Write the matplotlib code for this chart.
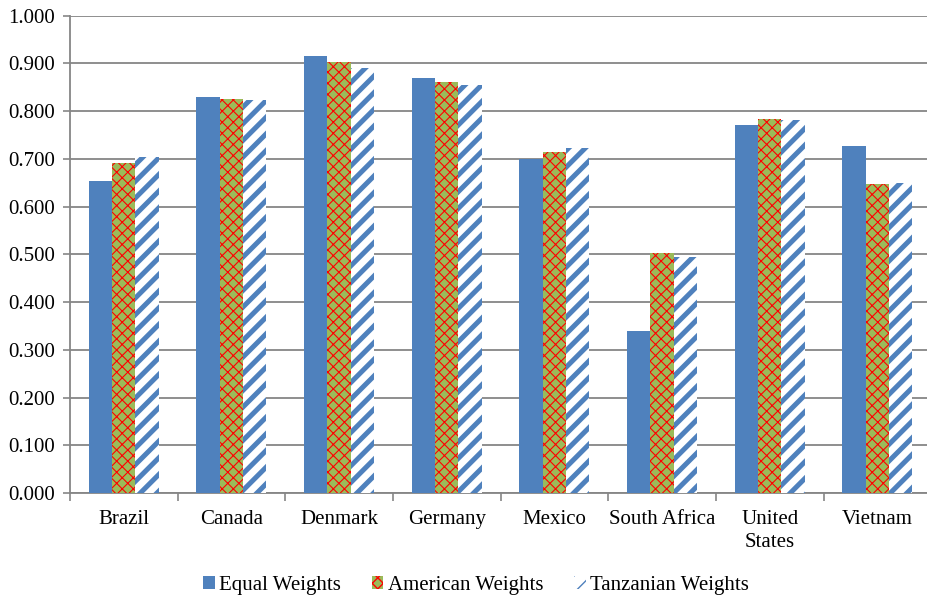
import numpy as np
import matplotlib
matplotlib.use("Agg")
import matplotlib.pyplot as plt

countries = ["Brazil", "Canada", "Denmark", "Germany", "Mexico",
             "South Africa", "United\nStates", "Vietnam"]
equal_w = [0.654, 0.830, 0.915, 0.870, 0.700, 0.340, 0.770, 0.727]
american_w = [0.692, 0.825, 0.902, 0.862, 0.715, 0.503, 0.784, 0.648]
tanzanian_w = [0.703, 0.823, 0.890, 0.855, 0.722, 0.495, 0.782, 0.650]
series_names = ["Equal Weights", "American Weights", "Tanzanian Weights"]

plt.rcParams['font.family'] = ['Liberation Serif', 'DejaVu Serif']
plt.rcParams['font.size'] = 15

blue = "#4F81BD"
green = "#9BBB59"
red = "#FF0000"
grid_c = "#868686"

fig = plt.figure(figsize=(9.28, 5.96), dpi=100)
ax = fig.add_axes([0.0754, 0.1728, 0.928, 0.8009])

x = np.arange(len(countries))
w = 0.217

b1 = ax.bar(x - w, equal_w, w, color=blue, linewidth=0, label=series_names[0], zorder=3)
b2 = ax.bar(x, american_w, w, facecolor=green, edgecolor=red, linewidth=0,
            hatch="xxx", label=series_names[1], zorder=3)
b3 = ax.bar(x + w, tanzanian_w, w, facecolor="white", edgecolor=blue, linewidth=0,
            hatch="//", label=series_names[2], zorder=3)

for p in b2:
    if hasattr(p, "set_hatch_linewidth"):
        p.set_hatch_linewidth(0.8)
for p in b3:
    if hasattr(p, "set_hatch_linewidth"):
        p.set_hatch_linewidth(3.6)

ax.set_ylim(0, 1.0)
ax.set_xlim(-0.5, len(countries) - 0.5)
ax.set_yticks(np.arange(0, 1.01, 0.1))
ax.set_yticklabels([f"{v:.3f}" for v in np.arange(0, 1.01, 0.1)])
ax.yaxis.grid(True, color=grid_c, linewidth=1.3, zorder=0)
ax.set_axisbelow(True)

ax.set_xticks(x)
ax.set_xticklabels(countries, linespacing=1.3)
ax.set_xticks(np.arange(-0.5, len(countries)), minor=True)
ax.tick_params(axis="x", which="major", length=0, pad=12)
ax.tick_params(axis="x", which="minor", length=6, color=grid_c, width=1.2)
ax.tick_params(axis="y", length=5, color=grid_c, width=1.2, pad=6)

for s in ["top", "right"]:
    ax.spines[s].set_visible(False)
for s in ["left", "bottom"]:
    ax.spines[s].set_color(grid_c)
    ax.spines[s].set_linewidth(1.3)

fig.legend(handles=[b1, b2, b3], labels=series_names, loc="lower center",
           bbox_to_anchor=(0.513, -0.03), ncol=3, frameon=False,
           handlelength=0.55, handleheight=0.55, handletextpad=0.2,
           columnspacing=1.5, fontsize=15)

fig.savefig("out.png", dpi=100)
